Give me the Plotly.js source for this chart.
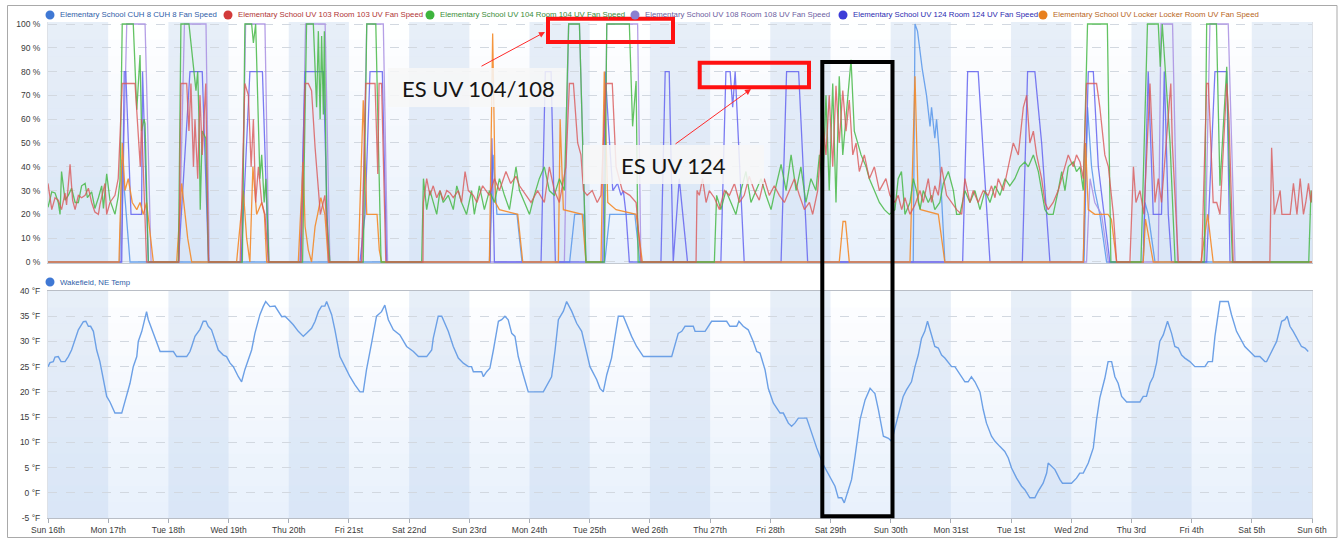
<!DOCTYPE html>
<html><head><meta charset="utf-8">
<script src="https://cdn.plot.ly/plotly-3.0.1.min.js"></script>
<style>html,body{margin:0;padding:0;background:#fff;}#chart{width:1338px;height:538px;}</style>
</head><body><div id="chart"></div>
<script>
// ---------- DATA (x = hours since Sun 16th 00:00) ----------
const tickLabels = ['Sun 16th','Mon 17th','Tue 18th','Wed 19th','Thu 20th','Fri 21st','Sat 22nd','Sun 23rd','Mon 24th','Tue 25th','Wed 26th','Thu 27th','Fri 28th','Sat 29th','Sun 30th','Mon 31st','Tue 1st','Wed 2nd','Thu 3rd','Fri 4th','Sat 5th','Sun 6th'];
const fanNames = ['Elementary School CUH 8 CUH 8 Fan Speed','Elementary School UV 103 Room 103 UV Fan Speed','Elementary School UV 104 Room 104 UV Fan Speed','Elementary School UV 108 Room 108 UV Fan Speed','Elementary School UV 124 Room 124 UV Fan Speed','Elementary School UV Locker Locker Room UV Fan Speed'];
const tempName = 'Wakefield, NE Temp';

const cuh8Fan = [[0,0],[28.6,0],[29.5,43],[32.7,0],[176,0],[177.5,45],[179,20],[187,20],[189,0],[208,0],[210,20],[213.5,20],[214.5,0],[222,0],[224,20],[234,20],[236,0],[345,0],[345.7,100],[346.7,97],[348.6,81],[350.3,70],[351.7,57],[352.3,65],[353.6,52],[354.3,60],[355.4,46],[356.7,20],[357.6,0],[413.1,0],[414.5,65],[416.1,40],[417.4,30],[419.4,20],[422.1,0],[436.7,0],[437.4,25],[438.7,20],[441.4,0],[504,0]];

const uv103Fan = [[0,33],[1.5,22],[2.8,27],[4.1,26],[5.4,22],[6.8,29],[7.4,24],[8.8,41],[9.8,26],[10.8,22],[12.1,28],[13.4,27],[14.8,28],[16.1,31],[17.4,25],[18.7,21],[20.1,20],[20.7,24],[22.7,33],[23.4,20],[24.7,25],[26.7,28],[28,35],
[29.6,75],[34.7,75],[36,50],[36.8,40],[37.3,60],[39.3,0],
[52.2,0],[53,75],[55.3,75],[56.2,55],[57,75],[58,40],[58.6,60],[59.7,35],[60.6,70],[61.5,45],[62.9,75],[64,0],
[76.6,0],[78.5,75],[79.9,70],[81,40],[81.9,60],[82.8,25],[83.9,40],[85.2,25],[86.5,20],[87.9,0],
[100.9,0],[102.5,75],[103.8,75],[105.1,72],[106.5,48],[107.1,40],[107.8,30],[108.6,20],[110.2,27],[110.4,28],[112.1,0],
[125.1,0],[126.7,75],[130.4,75],[131.5,37],[132,75],[133,75],[134.7,0],
[149.5,0],[149.7,25],[151,35],[152.3,28],[153.6,32],[155,27],[156.3,30],[157.6,26],[159,30],[160.3,29],[161.6,27],[163.6,30],[164.9,25],[166.3,38],[167.6,30],[169.6,28],[171,25],[173.3,32],[176,28],[178,35],[180,30],[182.6,38],[184.5,33],[186.6,36],[188,32],[190.6,28],[192.6,25],[195.2,30],[197.9,25],[199.9,40],[201.9,30],[203.9,25],[206.5,40],[207.9,75],[209.5,75],[211.2,50],[212.5,45],[213.5,30],[215,28],[217,30],[219,25],[220.5,28],[222.5,75],[225,75],[226.5,40],[229,30],[232,28],[234.5,25],[236.5,0],
[258.4,0],[258.8,30],[259.7,28],[261,35],[262.4,25],[263.7,30],[265.7,27],[267.7,22],[269.7,30],[271.7,28],[273.7,33],[275.7,25],[277.6,28],[279.6,36],[281.6,30],[283.6,26],[285.6,35],[287.6,28],[289.6,32],[291.6,28],[293.6,25],[295.6,30],[297.6,35],[299.6,28],[301.6,22],[303.6,25],[304.9,20],[306.9,30],[308.9,60],[310.2,45],[311.5,70],[312.9,40],[314.2,74],[315.5,50],[316.9,72],[318.2,55],[319.5,68],[320.9,45],[322.2,50],[323.5,38],[325.5,45],[327.5,35],[329.5,40],[331.5,30],[334.1,35],[335.7,28],
[337.7,25],[339,28],[340.4,22],[341.7,27],[343.7,20],[345.7,24],[347.7,30],[349,25],[351,35],[352.3,25],[353.6,32],[355,28],[356.3,40],[358.3,28],[360.3,25],[362.3,22],[364.3,20],[365.6,35],[367.6,25],[368.9,30],[370.9,25],[372.9,30],[374.9,28],[376.2,32],[377.6,27],[378.9,35],[380.9,30],[382.9,40],[384.9,50],[386.9,45],[388.9,65],[390.2,70],[391.5,50],[392.9,55],[394.2,45],[396.2,35],[397.5,25],[398.8,22],[400.8,25],[402.8,30],[404.8,38],[406.8,45],[408.8,40],[410.1,45],[411.5,42],[412.8,35],[414.1,75],[418.1,75],[419.4,65],[421.4,45],[422.8,40],[424.8,20],[426.1,0],
[431.4,0],[432.8,40],[433.8,25],[435.4,30],[437,20],[439.4,75],[441.4,25],[442.7,35],[444,25],[447.7,75],[448.3,50],[450.7,0],
[460,0],[462,75],[462.7,75],[464.6,25],[466,25],[467.3,20],[470,75],[470.9,60],[472.6,0],
[487.2,0],[487.9,48],[489,20],[490,25],[491.3,30],[492,20],[495.3,20],[496.6,33],[498,20],[499.3,35],[500.6,20],[501.5,25],[502.6,33],[503.5,25],[504,30]];

const uv104Fan = [[0,23],[1.5,29.5],[2.8,29],[4.1,25],[4.8,20],[5.4,38],[6.8,26],[8.1,28],[9.4,31],[10.8,25],[12.1,25],[13.4,32],[14.8,33],[15.7,27],[17.4,29.5],[18.7,22.5],[20.1,27],[21.4,32],[22.1,22.5],[23.4,37],[24.7,26],[26.7,20],[28,27.5],[28.7,34],
[29.6,100],[34,100],[35.4,64],[36.7,87],[37.3,55],[38.3,60],[38.7,58],[40,0],
[52,0],[53,100],[56.2,100],[58,80],[59,72],[59.7,80],[60.2,60],[60.7,22],[61.5,55],[62.9,52],[64,0],
[77.5,0],[78.5,100],[81.2,100],[81.9,92],[82.8,100],[83.9,60],[84.5,35],[85.2,45],[86.2,25],[86.9,35],[88.1,0],
[101.5,0],[103.1,100],[105.8,100],[107.1,65],[107.8,97],[108.5,60],[109.1,95],[109.8,62],[110.2,97],[111.1,20],[112.4,0],
[125.7,0],[127.1,100],[130.7,100],[132.8,0],
[149,0],[149.7,35],[151,22],[152.3,30],[153.6,25],[155,20],[156.3,30],[157.6,25],[159.6,28],[161.6,22],[163,32],[164.9,25],[166.9,20],[168.9,30],[170,20],[172,32],[174,22],[176,30],[178,25],[180,35],[182,28],[184,22],[186.6,40],[188,30],[190,25],[192,20],[193.9,28],[195.9,35],[197.9,40],[199.9,30],[201.9,28],[203.9,35],[205.9,30],[207.6,100],[211.9,100],[214.5,0],
[221.8,0],[222.8,100],[231.8,100],[233.1,57],[234.5,76],[235.3,0],
[265.7,0],[266.6,28],[268.3,22],[270.3,30],[272.3,25],[274.3,20],[276.3,30],[278.3,38],[280.3,25],[282.3,30],[284.3,35],[286.3,28],[288.3,22],[290.3,32],[292.3,41],[294.3,30],[296.3,45],[298.3,30],[300.2,40],[302.2,25],[304.2,35],[306.2,30],[307.6,45],[308.9,30],[310.2,70],[311.5,30],[312.9,75],[314.2,25],[315.5,78],[316.9,45],[318.2,60],[320.2,85],[321.5,55],[322.8,50],[324.2,45],[326.2,40],[327.5,35],[329.5,30],[331.5,25],[333.5,22],[335.5,20],
[337.7,22],[339,35],[340.3,38],[341.7,20],[343.7,25],[345,35],[346.3,30],[347.7,22],[349,30],[351,25],[352.3,28],[353.6,22],[355.6,25],[357,33],[359,38],[361,30],[362.3,20],[363.6,20],[365.6,30],[367.6,25],[369.6,30],[371.6,22],[373.6,30],[375.6,25],[377.6,32],[379.6,28],[381.6,35],[383.5,32],[385.5,35],[387.5,40],[389.5,42],[390.9,40],[392.9,45],[394.9,38],[396.2,30],[397.5,22],[398.8,20],[400.8,20],[402.8,30],[404.2,38],[405.5,30],[406.8,40],[408.8,42],[410.1,38],[411.5,40],[412.8,30],[414.5,100],[422.4,100],[423.8,0],
[435.8,0],[438.4,100],[442.7,100],[443.5,82],[444.3,100],[447.4,50],[449.4,0],
[461,0],[462,100],[465.9,100],[467.3,32],[470,82],[471.3,28],[472.3,0],
[502.7,0],[503.6,30],[504,25]];

const uv108Fan = [[0,0],[29.1,0],[31.4,100],[38.7,100],[41.1,0],[52.2,0],[54.4,100],[63,100],[64.3,0],[77.2,0],[78.8,100],[86.5,100],[88.1,0],[100.9,0],[102.7,100],[110.5,100],[112.4,0],[125.1,0],[127.1,100],[133.7,100],[135.4,0],[205.9,0],[207.6,100],[211.9,100],[214.5,0],[221.8,0],[222.8,100],[235.1,100],[236.4,0],[414.1,0],[415.5,35],[417.4,25],[420.1,20],[422.8,0],[442.7,0],[443.8,100],[448.4,100],[450.4,0],[461.3,0],[463.3,100],[470.6,100],[473.3,0],[504,0]];

const uv124Fan = [[0,0],[29.4,0],[30.4,80],[31,80],[33.1,20],[37.3,20],[37.7,80],[40,0],[52,0],[56.6,80],[61.5,80],[64,0],[77,0],[80.5,80],[85.5,80],[87.9,0],[100.5,0],[102.5,80],[109.8,80],[111.8,0],[124.4,0],[126.4,20],[128.4,80],[133.3,80],[135,0],[176.3,0],[177,52],[178,0],[196.6,0],[198.3,80],[200.6,80],[202.3,0],[221.2,0],[222.2,80],[223.6,55],[225.2,30],[227.1,33],[228.5,28],[229.4,30],[230.5,20],[231.8,0],[244.4,0],[246.1,80],[247.7,80],[249.3,0],[251.7,35],[255,0],[268.3,0],[270.3,80],[272,80],[273,65],[274,80],[277.6,0],[292.3,0],[294.5,80],[299.3,80],[302.9,0],[364.7,0],[366.7,80],[370.9,80],[375.6,0],[388.5,0],[390.6,80],[393.5,80],[396.2,50],[399.5,0],[412.8,0],[414.8,80],[416.8,80],[418.8,40],[423.4,0],[436.7,0],[438.7,80],[440.7,20],[444,20],[445.1,80],[446.7,20],[448,0],[462,0],[465.3,80],[470,80],[471.3,0],[504,0]];

const lockerFan = [[0,0],[28.3,0],[29.6,50],[30.7,30],[32,35],[33.6,25],[35.4,22],[36.7,25],[38,20],[39.3,25],[42,0],[51.3,0],[53.3,33],[54.6,20],[55.7,10],[57.3,0],[75.2,0],[77.9,30],[79.2,10],[80.5,0],[81.7,40],[83.2,20],[85.2,25],[86.3,20],[87.2,0],[99.8,0],[101.7,42],[102.5,15],[103.8,5],[105.1,0],[106.5,15],[107.5,20],[108.8,27],[110.4,20],[111.8,0],[123.7,0],[125.7,68],[127.1,20],[131.2,20],[132.1,5],[133,0],[176,0],[177.3,96],[178.4,25],[180,22],[187.3,20],[189.3,0],[203.5,0],[204.2,60],[205.5,22],[213,20],[214.5,0],[220.5,0],[221.8,80],[223.2,25],[226.5,22],[234.5,20],[237,0],[315.5,0],[317,17],[318,17],[319.5,0],[343.7,0],[345.7,78],[347,25],[348,22],[355,20],[357.6,0],[412.8,0],[413.7,50],[414.8,22],[417.4,20],[422.7,20],[424,18],[426.1,0],[436.7,0],[437.6,18],[440.7,0],[459.7,0],[462.4,20],[464.6,0],[504,0]];

const wakefieldTemp = [[0,25],[0.8,25.8],[2.1,26],[2.8,26.9],[4.1,27],[5.2,26],[6.8,26],[8.1,27],[9.4,28.3],[10.8,30.6],[12.1,32.3],[14.1,33.9],[15.1,34],[16.1,33],[17,33],[18.1,32],[19.4,28.3],[20.7,26],[22.1,22.4],[23.4,19.1],[24.7,18],[26.7,15.8],[29.4,15.8],[31.4,19.7],[32.7,21.7],[34,25],[35.4,27],[36,30],[37.4,32],[39.3,35.9],[40,34.3],[42,31.6],[43.3,30],[44.7,28],[50,28],[51.3,27],[55.3,27],[56.6,28],[57.3,29],[58.6,31],[60.6,32.4],[61.9,34],[63,34],[63.9,33],[65.2,32.3],[66.6,30.3],[67.9,28.3],[69.9,27.3],[71.2,27],[72.6,25.7],[73.9,25],[75.9,23],[77.2,22],[78.5,24.4],[81.2,28.3],[82.5,31.6],[84.5,35.3],[85.8,36.9],[86.8,37.9],[88.5,36.9],[90.5,37],[93.2,34.9],[94.5,35],[96.5,34],[97.8,33.3],[99.8,32],[101.8,31],[103.1,31.6],[105.1,32.6],[106.5,34],[107.8,35.9],[109.1,37],[110.4,37],[111.1,37.9],[113.1,35.3],[114.4,32.3],[116.4,27],[118.4,25],[120.4,23],[122.4,21.4],[124.4,20],[125.7,20],[127,24.4],[129,29.6],[131,35],[133,35.9],[134.3,37.2],[135.7,34.3],[137.7,32.3],[140.3,31.3],[143,29],[145.7,28],[147.7,27],[151,27],[153,28.3],[153.6,30.6],[155.6,35],[157,35],[159.6,32],[161.6,29],[163.6,26.7],[165.6,25.7],[167.6,25],[168.9,25],[169.6,24],[172.9,24],[173.6,23],[174.9,24],[176.2,24.7],[177.6,28.3],[179.6,34],[180.9,34.3],[182.2,35],[183.5,34.3],[184.9,31.6],[186.2,31],[187.5,27],[189.5,23.4],[191.5,20],[197.5,20],[200.8,23],[202.2,28.3],[203.5,34.3],[205.5,36],[206.8,37.9],[208.8,36],[210.8,33.6],[212.8,32],[214.8,27.7],[216.1,25],[218.8,22.4],[220.1,20.7],[221.4,20],[222.8,23.4],[224.7,26.7],[226.1,31],[227.4,35],[229.4,35],[230.7,33.3],[232.7,31],[234.7,29],[236.1,28],[237.4,27],[248.7,27],[251.3,31.6],[252.7,32],[254,33],[257.3,33],[258,32],[262,32],[263.3,33],[264.6,34],[270.6,34],[271.9,33],[274.6,33],[275.5,34],[277.2,33],[279.2,32.3],[281.2,30],[282.6,28],[283.9,27.7],[285.9,24.4],[287.2,20.7],[289.2,17.8],[291.9,15.8],[293.2,15.8],[295.2,13.8],[296.5,13.2],[297.8,13.8],[299.2,14.8],[302.5,14.8],[304.5,11.8],[306.5,8.9],[309.1,5.6],[311.8,3.3],[313.8,1.3],[315.1,-1],[316.5,-1],[317.5,-2],[319.1,0.6],[320.4,2.6],[321.8,7.2],[323.8,14.5],[325.8,18.4],[327.8,20.7],[329.1,20],[329.7,19.7],[331.1,16.5],[333.1,11.2],[335.1,10.8],[336.4,10.2],[337.7,12.8],[339.7,16.5],[341,19.1],[342.3,20.4],[344.3,22],[345.7,25],[347,27.3],[348.3,30.6],[349.6,32],[350.7,34],[351.6,32.3],[353.6,29],[355,28.7],[356.3,27.3],[357.6,26.7],[359,25.7],[360.3,25],[361.6,25],[363.6,23.4],[365.6,22],[366.9,22],[368.2,23],[369.6,22],[371.6,20],[372.9,16.5],[374.2,13.8],[376.2,11.2],[377.6,10.2],[379.5,9.2],[381.5,8.2],[382.9,6.9],[384.2,4.9],[386.2,2.9],[388.2,1.3],[389.5,0.6],[391.5,-1],[393.5,-1],[394.8,0.3],[396.8,1.9],[398.2,3.9],[398.8,5.9],[400.2,5.2],[401.5,4.6],[403.5,2.6],[404.5,1.9],[408.1,1.9],[410.1,2.9],[411.4,3.9],[412.8,3.9],[414.8,5.9],[416.8,8.9],[418.1,14.5],[419.4,18.8],[421.4,22.7],[422.7,26],[424.1,26],[425.4,23],[426.7,21.7],[428.1,19.1],[430.1,18],[435.4,18],[436.7,19.1],[438,19.1],[439.4,21.7],[440.7,23],[442,25.7],[443.3,30],[444.7,31.3],[446.4,34],[448,31.6],[449.3,29],[450.7,28.7],[452,27.3],[453.3,26.7],[455.3,26],[457.3,25],[461.3,25],[462.6,26],[464.3,26],[465.3,31],[467.3,37.9],[470.6,37.9],[471.9,35.3],[473.9,32],[475.9,30],[477.2,29],[479.2,28],[481.2,27],[483.2,27],[485.2,26],[485.9,26],[487.9,28],[489.9,30],[491.9,34],[493.2,34.3],[494.1,35],[495.2,33],[496.5,32],[498.5,30],[499.8,29],[501.2,28.7],[502.5,28]];

const fanTicks = [0,10,20,30,40,50,60,70,80,90,100];
const tempTicks = [-5,0,5,10,15,20,25,30,35,40];

// ---------- STYLE ----------
const fanSeries = [cuh8Fan, uv103Fan, uv104Fan, uv108Fan, uv124Fan, lockerFan];
const lineColors = ['rgba(95,155,235,0.9)','rgba(218,88,88,0.8)','rgba(72,185,72,0.85)','rgba(168,142,226,0.85)','rgba(100,100,240,0.85)','rgba(244,138,40,0.9)'];
const dotColors = ['#3f78d4','#d23a3a','#3db43d','#8a7fd0','#3c3cd8','#e8801e'];
const textColors = ['#2f5ea8','#b03535','#3a8d3a','#6c60a2','#2b2bb0','#b8661a'];
const drawOrder = [0,3,4,5,2,1];
const legendDotX = [50,228,430,635,843,1043];

const L = 48, R = 1312, T = 22, B = 518, W = 1338, H = 538;
const px = v => (v - L) / (R - L);
const py = v => (B - v) / (B - T);

const traces = [];
drawOrder.forEach(i => {
  const s = fanSeries[i];
  traces.push({x: s.map(p=>p[0]), y: s.map(p=>p[1]), type:'scatter', mode:'lines', name: fanNames[i],
    line:{color: lineColors[i], width:1.3}, xaxis:'x', yaxis:'y', showlegend:false, hoverinfo:'skip'});
});
traces.push({x: wakefieldTemp.map(p=>p[0]), y: wakefieldTemp.map(p=>p[1]), type:'scatter', mode:'lines', name: tempName,
  line:{color:'rgba(108,160,230,1)', width:1.4}, xaxis:'x2', yaxis:'y2', showlegend:false, hoverinfo:'skip'});

const tickHours = tickLabels.map((_, i) => i * 24);

const shapes = [];
[['x','y'],['x2','y2']].forEach(([xa, ya]) => {
  tickHours.slice(0, -1).forEach((h, i) => {
    if (i % 2 === 0) shapes.push({type:'rect', layer:'below', xref:xa, yref:ya+' domain', x0:h, x1:h+24, y0:0, y1:1,
      fillcolor:'rgba(185,205,232,0.32)', line:{width:0}});
  });
  const N = 14;
  for (let k = 0; k < N; k++) {
    shapes.push({type:'rect', layer:'below', xref:xa+' domain', yref:ya+' domain', x0:0, x1:1, y0:k/N, y1:(k+1)/N,
      fillcolor:'rgba(190,214,245,' + (0.36*(1-(k+0.5)/N)).toFixed(3) + ')', line:{width:0}});
  }
});
shapes.push({type:'rect', xref:'paper', yref:'paper', x0:px(7.5), x1:px(1337), y0:py(537.5), y1:py(5.5), line:{color:'#a9a9a9', width:1}, fillcolor:'rgba(0,0,0,0)'});
shapes.push({type:'rect', xref:'paper', yref:'paper', x0:px(388), x1:px(566), y0:py(107), y1:py(68), fillcolor:'rgba(247,247,247,0.86)', line:{width:0}});
shapes.push({type:'rect', xref:'paper', yref:'paper', x0:px(583), x1:px(764), y0:py(184), y1:py(145), fillcolor:'rgba(247,247,247,0.86)', line:{width:0}});
shapes.push({type:'rect', xref:'paper', yref:'paper', x0:px(548), x1:px(673), y0:py(42), y1:py(18.7), line:{color:'#ff1111', width:4}, fillcolor:'rgba(0,0,0,0)'});
shapes.push({type:'rect', xref:'paper', yref:'paper', x0:px(699.7), x1:px(809), y0:py(87.3), y1:py(62.8), line:{color:'#ff1111', width:4}, fillcolor:'rgba(0,0,0,0)'});
shapes.push({type:'rect', xref:'paper', yref:'paper', x0:px(822.3), x1:px(892.5), y0:py(516.3), y1:py(62), line:{color:'#000000', width:4}, fillcolor:'rgba(0,0,0,0)'});
legendDotX.forEach((x, i) => {
  shapes.push({type:'circle', xref:'paper', yref:'paper', xsizemode:'pixel', ysizemode:'pixel', xanchor:px(x), yanchor:py(15),
    x0:-4.5, x1:4.5, y0:-4.5, y1:4.5, fillcolor:dotColors[i], line:{width:0}});
});
shapes.push({type:'circle', xref:'paper', yref:'paper', xsizemode:'pixel', ysizemode:'pixel', xanchor:px(50), yanchor:py(282),
  x0:-4.5, x1:4.5, y0:-4.5, y1:4.5, fillcolor:'#3f78d4', line:{width:0}});

const annotations = [];
legendDotX.forEach((x, i) => {
  annotations.push({xref:'paper', yref:'paper', x:px(x+8), y:py(15), xanchor:'left', yanchor:'middle', showarrow:false,
    text:fanNames[i], font:{family:'Liberation Sans, Arial, sans-serif', size:7.8, color:textColors[i]}});
});
annotations.push({xref:'paper', yref:'paper', x:px(58), y:py(282), xanchor:'left', yanchor:'middle', showarrow:false,
  text:tempName, font:{family:'Liberation Sans, Arial, sans-serif', size:7.8, color:'#2f5ea8'}});
annotations.push({xref:'paper', yref:'paper', x:px(478), y:py(88), xanchor:'center', yanchor:'middle', showarrow:false,
  text:'ES UV 104/108', font:{family:'Lato, Open Sans, sans-serif', size:22, color:'#151515'}});
annotations.push({xref:'paper', yref:'paper', x:px(673), y:py(165), xanchor:'center', yanchor:'middle', showarrow:false,
  text:'ES UV 124', font:{family:'Lato, Open Sans, sans-serif', size:22, color:'#151515'}});
annotations.push({xref:'paper', yref:'paper', x:px(545), y:py(32), ax:-65, ay:35, text:'', showarrow:true,
  arrowhead:2, arrowsize:1.2, arrowwidth:1, arrowcolor:'#ff2a2a', standoff:0, startstandoff:0});
annotations.push({xref:'paper', yref:'paper', x:px(751), y:py(89), ax:-77, ay:56, text:'', showarrow:true,
  arrowhead:2, arrowsize:1.2, arrowwidth:1, arrowcolor:'#ff2a2a', standoff:0, startstandoff:0});

const tickFont = {family:'Liberation Sans, Arial, sans-serif', size:8.5, color:'#3a3a3a'};
const layout = {
  width:W, height:H, margin:{l:L, r:W-R, t:T, b:H-B, pad:0},
  paper_bgcolor:'#ffffff', plot_bgcolor:'#ffffff', showlegend:false,
  font:{family:'Liberation Sans, Arial, sans-serif', size:8.5, color:'#333'},
  xaxis:{domain:[0,1], anchor:'y', range:[0,504], tickvals:tickHours, showticklabels:false, ticks:'', showgrid:false, zeroline:false,
    showline:true, linecolor:'#c3c9d1', linewidth:1},
  yaxis:{domain:[0.5133,1], anchor:'x', range:[-0.6,100.84], tickmode:'array', tickvals:fanTicks, ticktext:fanTicks.map(v => v + ' %'),
    tickfont:tickFont, ticks:'', ticklabelstandoff:5,
    showgrid:true, gridcolor:'#d2d8e0', griddash:'dash', gridwidth:1, zeroline:false, showline:true, mirror:true, linecolor:'#dde1e7'},
  xaxis2:{domain:[0,1], anchor:'y2', range:[0,504], tickmode:'array', tickvals:tickHours, ticktext:tickLabels, tickfont:tickFont, ticks:'outside', ticklen:4,
    tickcolor:'#a7adb6', showgrid:false, zeroline:false, showline:true, mirror:true, linecolor:'#b9bec6', linewidth:1},
  yaxis2:{domain:[0,0.4577], anchor:'x2', range:[-5,40], tickmode:'array', tickvals:tempTicks, ticktext:tempTicks.map(v => v + ' °F'),
    tickfont:tickFont, ticks:'', ticklabelstandoff:5,
    showgrid:true, gridcolor:'#d2d8e0', griddash:'dash', gridwidth:1, zeroline:false, showline:true, mirror:true, linecolor:'#dde1e7'},
  shapes:shapes, annotations:annotations
};
Plotly.newPlot('chart', traces, layout, {displayModeBar:false, staticPlot:true});
</script>
</body></html>
